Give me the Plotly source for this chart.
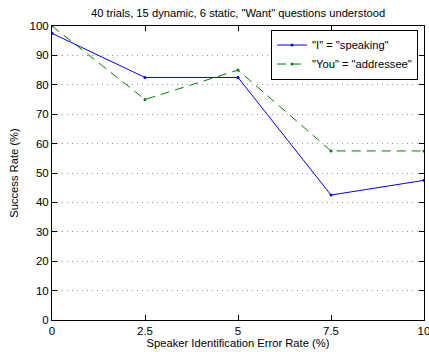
import plotly.graph_objects as go

error_rate = [0, 2.5, 5, 7.5, 10]
speaking = [97.5, 82.5, 82.5, 42.5, 47.5]
addressee = [100, 75, 85, 57.5, 57.5]
x_ticks = [0, 2.5, 5, 7.5, 10]
x_tick_labels = ["0", "2.5", "5", "7.5", "10"]
y_ticks = list(range(0, 101, 10))

fig = go.Figure()
fig.add_trace(go.Scatter(x=error_rate, y=speaking, mode="lines+markers",
                         name='"I" = "speaking"',
                         line=dict(color="#0000ff", width=1),
                         marker=dict(size=3, color="#0000ff")))
fig.add_trace(go.Scatter(x=error_rate, y=addressee, mode="lines+markers",
                         name='"You" = "addressee"',
                         line=dict(color="#008000", width=1, dash="9px,6px"),
                         marker=dict(size=3, color="#008000")))

axis_common = dict(showline=True, linecolor="black", linewidth=1, mirror="ticks",
                   ticks="inside", ticklen=5, tickcolor="black",
                   gridcolor="#999999", griddash="1px,4px", gridwidth=1,
                   zeroline=False, automargin=False, ticklabeloverflow="allow",
                   tickfont=dict(family="Liberation Sans, Arial", size=11.5, color="black"))

fig.update_layout(
    width=429, height=352,
    margin=dict(l=52, r=5, t=26, b=32),
    paper_bgcolor="white", plot_bgcolor="white",
    title=dict(text='40 trials, 15 dynamic, 6 static, "Want" questions understood',
               x=0.555, xanchor="center", y=0.963, yanchor="middle",
               font=dict(family="Liberation Sans, Arial", size=11.2, color="black")),
    xaxis=dict(range=[0, 10], tickvals=x_ticks, ticktext=x_tick_labels, showgrid=False,
               title=dict(text="Speaker Identification Error Rate (%)", standoff=2,
                          font=dict(family="Liberation Sans, Arial", size=11.2, color="black")),
               **axis_common),
    yaxis=dict(range=[0, 100], tickvals=y_ticks, showgrid=True,
               title=dict(text="Success Rate (%)", standoff=8,
                          font=dict(family="Liberation Sans, Arial", size=11.2, color="black")),
               **axis_common),
    legend=dict(x=0.984, y=0.988, xanchor="right", yanchor="top",
                bordercolor="black", borderwidth=1, bgcolor="white",
                font=dict(family="Liberation Sans, Arial", size=11.2, color="black"),
                tracegroupgap=0, itemwidth=30),
    showlegend=True,
)

fig.write_html("out.html")
